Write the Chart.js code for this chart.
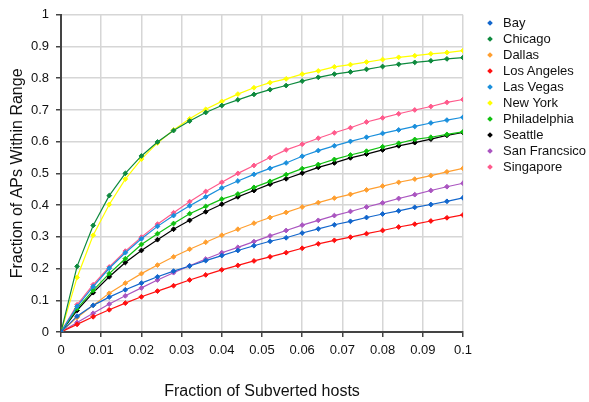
<!DOCTYPE html>
<html>
<head>
<meta charset="utf-8">
<script src="https://cdn.jsdelivr.net/npm/chart.js@4.4.0/dist/chart.umd.min.js"></script>
<style>
    html, body { margin: 0; padding: 0; background: #fff; }
    #wrap { position: relative; width: 589px; height: 402px; }
    #legend { position: absolute; left: 484px; top: 14.5px; font: 13px "Liberation Sans", Arial, sans-serif; color: #111; }
    .leg-row { height: 16.1px; line-height: 16.1px; position: relative; white-space: nowrap; }
    .leg-mark { position: absolute; left: 4px; top: 6px; width: 4px; height: 4px; transform: rotate(45deg); }
    .leg-text { position: absolute; left: 19px; top: 0; }
</style>
</head>
<body>
<div id="wrap">
    <canvas id="chart" width="589" height="402"></canvas>
    <div id="legend"></div>
</div>
<script>
const xValues = [0, 0.004, 0.008, 0.012, 0.016, 0.02, 0.024, 0.028, 0.032, 0.036, 0.04, 0.044, 0.048,
    0.052, 0.056, 0.06, 0.064, 0.068, 0.072, 0.076, 0.08, 0.084, 0.088, 0.092, 0.096, 0.1];

const cities = ['Bay', 'Chicago', 'Dallas', 'Los Angeles', 'Las Vegas', 'New York',
    'Philadelphia', 'Seattle', 'San Francsico', 'Singapore'];
const cityColors = ['#1266cc', '#0e8a3e', '#ff9f30', '#ff1010', '#1a8fdc', '#ffff00',
    '#10c010', '#000000', '#aa55c0', '#ff5a8c'];

const bay = [0, 0.050, 0.084, 0.110, 0.133, 0.154, 0.174, 0.192, 0.208, 0.225, 0.241, 0.257, 0.272,
    0.286, 0.297, 0.312, 0.325, 0.338, 0.349, 0.361, 0.372, 0.382, 0.393, 0.402, 0.412, 0.423];
const chicago = [0, 0.207, 0.336, 0.430, 0.500, 0.555, 0.599, 0.635, 0.665, 0.692, 0.714, 0.732, 0.749,
    0.764, 0.777, 0.791, 0.803, 0.813, 0.820, 0.828, 0.837, 0.844, 0.850, 0.855, 0.861, 0.865];
const dallas = [0, 0.046, 0.084, 0.122, 0.154, 0.184, 0.211, 0.237, 0.261, 0.283, 0.305, 0.324, 0.343,
    0.361, 0.377, 0.394, 0.408, 0.422, 0.434, 0.448, 0.460, 0.472, 0.482, 0.493, 0.505, 0.516];
const losAngeles = [0, 0.024, 0.048, 0.070, 0.091, 0.111, 0.129, 0.146, 0.164, 0.180, 0.196, 0.210, 0.224,
    0.237, 0.250, 0.264, 0.278, 0.289, 0.299, 0.310, 0.320, 0.331, 0.340, 0.350, 0.360, 0.369];
const lasVegas = [0, 0.081, 0.143, 0.201, 0.250, 0.294, 0.333, 0.367, 0.398, 0.426, 0.454, 0.476, 0.497,
    0.516, 0.533, 0.554, 0.572, 0.587, 0.601, 0.614, 0.626, 0.637, 0.648, 0.659, 0.668, 0.677];
const newYork = [0, 0.172, 0.305, 0.402, 0.482, 0.545, 0.596, 0.637, 0.672, 0.702, 0.727, 0.750, 0.770,
    0.786, 0.798, 0.813, 0.823, 0.836, 0.843, 0.851, 0.859, 0.866, 0.871, 0.877, 0.881, 0.887];
const philadelphia = [0, 0.074, 0.131, 0.184, 0.231, 0.276, 0.310, 0.342, 0.373, 0.396, 0.419, 0.435, 0.456,
    0.475, 0.496, 0.515, 0.528, 0.544, 0.558, 0.570, 0.584, 0.595, 0.607, 0.614, 0.623, 0.631];
const seattle = [0, 0.068, 0.124, 0.174, 0.219, 0.257, 0.291, 0.324, 0.352, 0.379, 0.403, 0.426, 0.446,
    0.466, 0.483, 0.501, 0.519, 0.533, 0.549, 0.561, 0.574, 0.587, 0.597, 0.608, 0.620, 0.629];
const sanFrancisco = [0, 0.030, 0.059, 0.088, 0.114, 0.139, 0.164, 0.187, 0.209, 0.230, 0.250, 0.267, 0.285,
    0.303, 0.320, 0.337, 0.352, 0.367, 0.380, 0.394, 0.407, 0.421, 0.433, 0.446, 0.458, 0.469];
const singapore = [0, 0.086, 0.149, 0.205, 0.255, 0.299, 0.340, 0.376, 0.411, 0.443, 0.472, 0.500, 0.525,
    0.550, 0.574, 0.592, 0.611, 0.628, 0.644, 0.662, 0.675, 0.688, 0.700, 0.711, 0.724, 0.733];

const seriesValues = [bay, chicago, dallas, losAngeles, lasVegas, newYork,
    philadelphia, seattle, sanFrancisco, singapore];

const FONT = '"Liberation Sans", Arial, sans-serif';

const datasets = cities.map((name, i) => ({
    label: name,
    data: xValues.map((x, j) => ({ x: x, y: seriesValues[i][j] })),
    borderColor: cityColors[i],
    backgroundColor: cityColors[i],
    borderWidth: 1.2,
    pointStyle: 'rectRot',
    pointRadius: 2.4,
    pointBorderWidth: 1,
    tension: 0
}));

//..legend next to the plot
const legendBox = document.getElementById('legend');
cities.forEach((name, i) => {
    const row = document.createElement('div');
    row.className = 'leg-row';
    row.innerHTML = `<span class="leg-mark" style="background:${cityColors[i]}"></span><span class="leg-text">${name}</span>`;
    legendBox.appendChild(row);
});

const fmt = v => String(+v.toFixed(3));

new Chart(document.getElementById('chart'), {
    type: 'line',
    data: { datasets: datasets },
    options: {
        responsive: false,
        animation: false,
        layout: { padding: { top: 11, right: 126, left: 0, bottom: 0 } },
        plugins: { legend: { display: false }, tooltip: { enabled: false } },
        scales: {
            x: {
                type: 'linear',
                min: 0,
                max: 0.1,
                afterFit: s => { s.height = 70; },
                ticks: { stepSize: 0.01, callback: fmt, color: '#111', padding: 6, maxRotation: 0,
                    font: { family: FONT, size: 13 } },
                grid: { color: '#d6d6d6', lineWidth: 1.5, tickColor: '#444', tickLength: 5 },
                border: { color: '#444', width: 2 },
                title: { display: true, text: 'Fraction of Subverted hosts', color: '#111',
                    font: { family: FONT, size: 16 }, padding: { top: 0, bottom: 1 } }
            },
            y: {
                min: 0,
                max: 1,
                afterFit: s => { s.width = 61; },
                ticks: { stepSize: 0.1, callback: fmt, color: '#111', padding: 7,
                    font: { family: FONT, size: 13 } },
                grid: { color: '#d6d6d6', lineWidth: 1.5, tickColor: '#444', tickLength: 5 },
                border: { color: '#444', width: 2 },
                title: { display: true, text: 'Fraction of APs Within Range', color: '#111',
                    font: { family: FONT, size: 16 }, padding: { top: 8, bottom: 0 } }
            }
        }
    }
});
</script>
</body>
</html>
